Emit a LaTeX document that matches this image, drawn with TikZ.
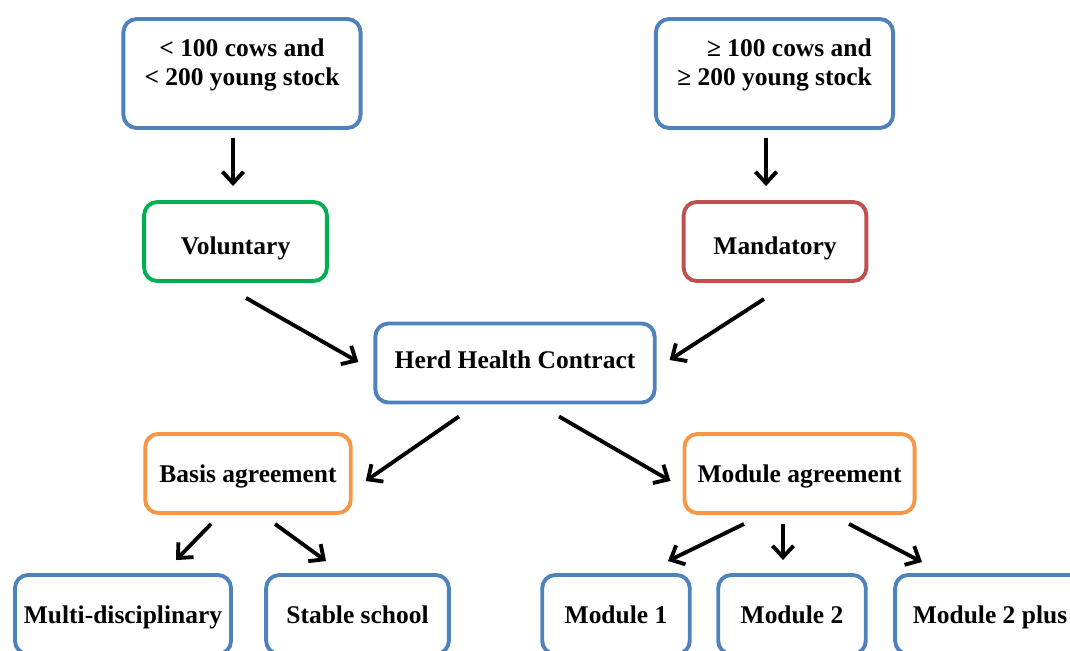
\documentclass[tikz,border=0pt]{standalone}
\usepackage{fontspec}
\setmainfont{Liberation Serif}
\usetikzlibrary{arrows.meta}
\definecolor{BoxBlue}{RGB}{79,129,189}
\definecolor{BoxGreen}{RGB}{0,176,80}
\definecolor{BoxRed}{RGB}{192,80,77}
\definecolor{BoxOrange}{RGB}{247,150,70}

\begin{document}
\begin{tikzpicture}[x=0.02cm, y=-0.02cm, font=\fontsize{14.5}{16.5}\selectfont\bfseries]
    \tikzset{
        box/.style={rectangle, rounded corners=7.5pt, draw=BoxBlue,
            line width=2.2pt, fill=white, minimum height=45pt,
            align=center, inner sep=2pt, text height=10pt, text depth=0pt},
        sizebox/.style={box, minimum width=135pt, minimum height=62pt,
            text height=, text depth=13pt},
        optbox/.style={box, draw=#1, minimum width=104pt, text height=15pt},
        agreebox/.style={box, draw=BoxOrange},
        flow/.style={line width=2.2pt,
            -{Straight Barb[length=6.5pt, width=12pt]}}
    }
    \path[use as bounding box, clip] (0,0) rectangle (1070,651);
    % who has to sign
    \node[sizebox] (small) at (242,73.5) {< 100 cows and\\< 200 young stock};
    \node[sizebox, align=right] (large) at (774.5,73.5) {≥ 100 cows and\\≥ 200 young stock};
    \node[optbox=BoxGreen] (vol) at (235.5,241.5) {Voluntary};
    \node[optbox=BoxRed] (mand) at (775,241.5) {Mandatory};
    % contract and its parts
    \node[box, minimum width=159pt, text height=6.5pt] (hhc) at (515,363) {Herd Health Contract};
    \node[agreebox, minimum width=117pt] (basis) at (248,473.5) {Basis agreement};
    \node[agreebox, minimum width=131pt] (module) at (799.5,473.5) {Module agreement};
    \node[box, minimum width=123pt] (multi) at (123,614.5) {Multi-disciplinary};
    \node[box, minimum width=104pt] (stable) at (357.5,614.5) {Stable school};
    \node[box, minimum width=84pt] (mod1) at (616,614.5) {Module 1};
    \node[box, minimum width=84pt] (mod2) at (792,614.5) {Module 2};
    \node[box, minimum width=108pt] (mod2p) at (990,614.5) {Module 2 plus};
    % arrows
    \draw[flow] ([shift={(-9,8)}]small.south) -- ([shift={(-2.5,-14)}]vol.north);
    \draw[flow] ([shift={(-8.5,8)}]large.south) -- ([shift={(-9,-14)}]mand.north);
    \draw[flow] ([shift={(10.5,15)}]vol.south) -- ([shift={(-15,-1)}]hhc.west);
    \draw[flow] ([shift={(-11,16)}]mand.south) -- ([shift={(13,-3)}]hhc.east);
    \draw[flow] ([shift={(-56,12)}]hhc.south) -- ([shift={(13,7.5)}]basis.east);
    \draw[flow] ([shift={(44,12)}]hhc.south) -- ([shift={(-12,7.5)}]module.west);
    \draw[flow] ([shift={(-37,9)}]basis.south) -- ([shift={(53,-13)}]multi.north);
    \draw[flow] ([shift={(27,9)}]basis.south) -- ([shift={(-31.5,-12)}]stable.north);
    \draw[flow] ([shift={(-55.5,9)}]module.south) -- ([shift={(52,-12)}]mod1.north);
    \draw[flow] ([shift={(-16.5,9)}]module.south) -- ([shift={(-9,-13)}]mod2.north);
    \draw[flow] ([shift={(49.5,9)}]module.south) -- ([shift={(-68,-11)}]mod2p.north);
\end{tikzpicture}
\end{document}
